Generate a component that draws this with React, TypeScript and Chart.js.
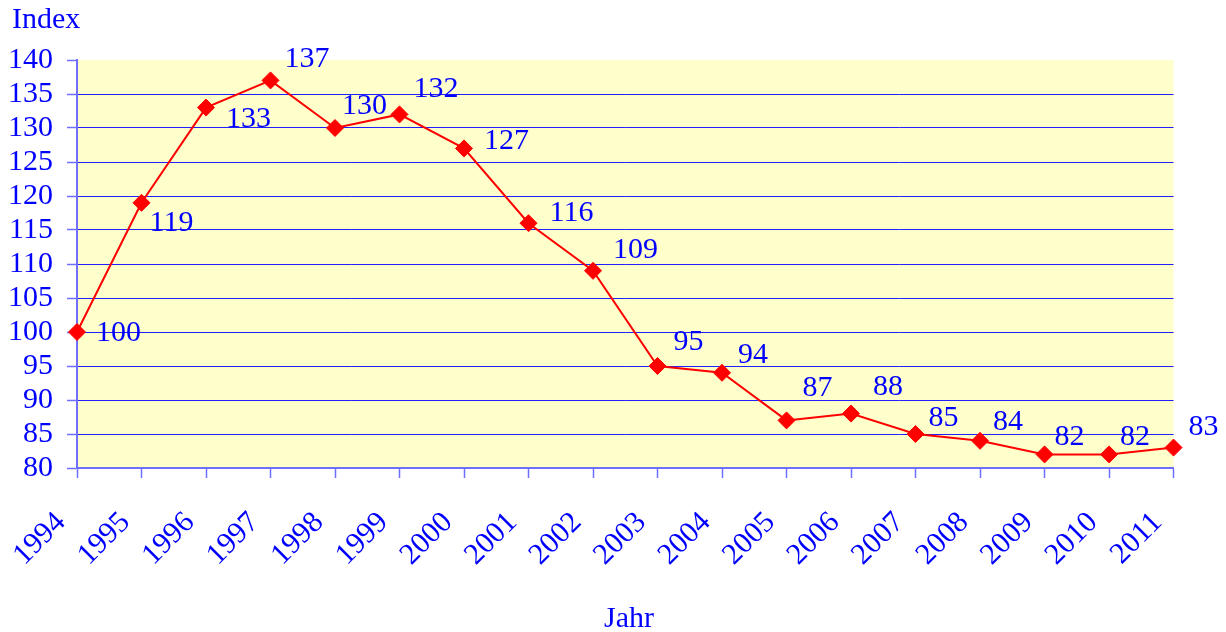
import React, { useEffect, useRef } from "react";
import { Chart, registerables } from "chart.js";

Chart.register(...registerables);

const years = ["1994","1995","1996","1997","1998","1999","2000","2001","2002","2003","2004","2005","2006","2007","2008","2009","2010","2011"];
const indexValues = [100, 119, 133, 137, 130, 132, 127, 116, 109, 95, 94, 87, 88, 85, 84, 82, 82, 83];
const yTicks = [80, 85, 90, 95, 100, 105, 110, 115, 120, 125, 130, 135, 140];
// label nudges relative to each point (style only)
const labelNudges: [number, number][] = [
  [19, 1], [8, 20], [20, 12], [14, -21], [7, -22], [14, -25], [20, -7], [21, -10], [20, -21],
  [16, -24], [16, -18], [16, -32], [22, -26], [13, -16], [13, -19], [10, -17], [11, -17], [15, -20],
];

const FONT = "'Liberation Serif', 'Times New Roman', serif";
const BLUE = "#0000ff";
const AXIS = "#6f6fff";

export default function App() {
  const ref = useRef<HTMLCanvasElement>(null);
  useEffect(() => {
    if (!ref.current) return;
    const bgPlugin = {
      id: "bg",
      beforeDraw(chart: any) {
        const { ctx, chartArea } = chart;
        ctx.save();
        ctx.fillStyle = "#ffffcc";
        ctx.fillRect(chartArea.left, chartArea.top, chartArea.right - chartArea.left, chartArea.bottom - chartArea.top);
        ctx.restore();
      },
      afterDraw(chart: any) {
        const { ctx } = chart;
        ctx.save();
        ctx.fillStyle = BLUE;
        ctx.font = `30px ${FONT}`;
        ctx.textAlign = "left";
        ctx.textBaseline = "alphabetic";
        ctx.fillText("Index", 12, 28);
        ctx.textAlign = "center";
        ctx.fillText("Jahr", 629, 627);
        // data labels
        const meta = chart.getDatasetMeta(0);
        ctx.textAlign = "left";
        ctx.textBaseline = "middle";
        meta.data.forEach((pt: any, i: number) => {
          const [dx, dy] = labelNudges[i];
          ctx.fillText(String(indexValues[i]), pt.x + dx, pt.y + dy);
        });
        ctx.restore();
      },
    };
    const chart = new Chart(ref.current, {
      type: "line",
      data: {
        labels: years,
        datasets: [
          {
            data: indexValues,
            borderColor: "#ff0000",
            backgroundColor: "#ff0000",
            borderWidth: 2,
            pointStyle: "rectRot",
            pointRadius: 8.5,
            pointBorderWidth: 1,
            pointBorderColor: "#ff0000",
            pointBackgroundColor: "#ff0000",
            tension: 0,
          },
        ],
      },
      options: {
        animation: false,
        responsive: false,
        layout: { padding: { top: 60, right: 48, left: 0, bottom: 0 } },
        plugins: { legend: { display: false }, tooltip: { enabled: false } },
        scales: {
          x: {
            offset: false,
            afterFit(scale: any) { scale.height = 164; },
            grid: { drawOnChartArea: false, drawTicks: true, tickLength: 10, tickColor: AXIS, tickWidth: 1.5 },
            border: { color: AXIS, width: 2 },
            ticks: {
              color: BLUE,
              font: { family: FONT, size: 30 },
              minRotation: 45,
              maxRotation: 45,
              autoSkip: false,
              padding: 27,
              labelOffset: -16,
            },
          },
          y: {
            min: 80,
            max: 140,
            afterFit(scale: any) { scale.width = 77; },
            afterBuildTicks(scale: any) { scale.ticks = yTicks.map((v) => ({ value: v })); },
            grid: {
              color: (c: any) => (c.tick && (c.tick.value === 140 || c.tick.value === 80) ? "rgba(0,0,0,0)" : "#2020ff"),
              lineWidth: 1,
              tickLength: 10,
              tickColor: AXIS,
              tickWidth: 1.5,
            },
            border: { color: AXIS, width: 2 },
            ticks: {
              color: BLUE,
              font: { family: FONT, size: 30 },
              padding: 14,
              stepSize: 5,
              autoSkip: false,
            },
          },
        },
      },
      plugins: [bgPlugin],
    });
    return () => chart.destroy();
  }, []);
  return (
    <div style={{ position: "absolute", left: 0, top: 0, width: 1226, height: 632, background: "#fff" }}>
      <canvas ref={ref} width={1226} height={632} />
    </div>
  );
}
